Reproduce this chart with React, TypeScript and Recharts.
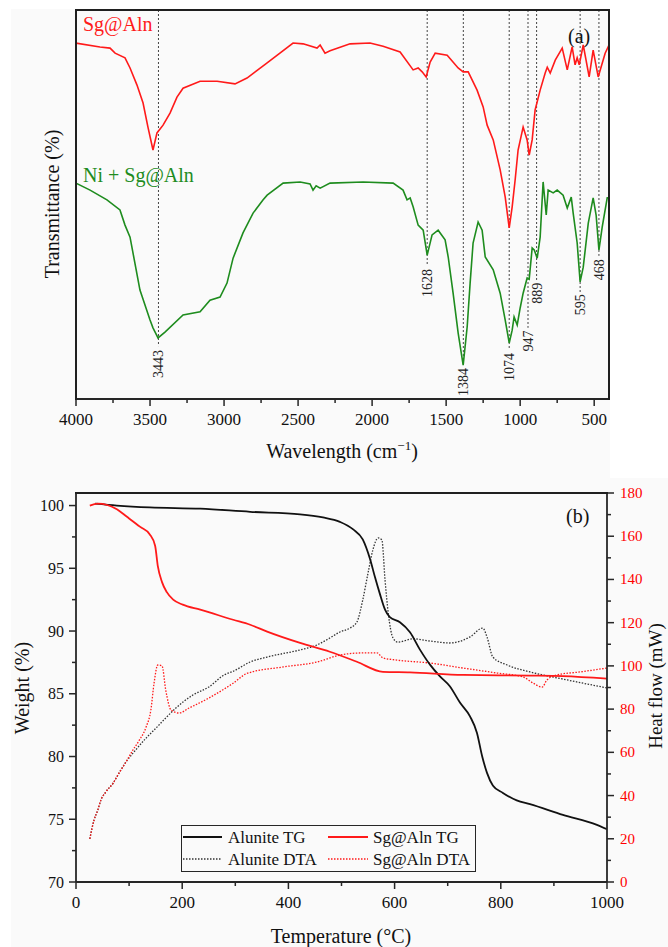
import React from 'react';
import { LineChart, Line, XAxis, YAxis, ReferenceLine, ReferenceDot } from 'recharts';

const FONT = '"Liberation Serif", "Times New Roman", Times, serif';
const AX = '#262626';
const RED = '#ff1a1a';
const GREEN = '#1e8c1e';
const BG = '#fafafa';

// ---------- (a) FTIR ----------
const sgAlnWave = [4000, 3838, 3770, 3736, 3669, 3635, 3588, 3547, 3514, 3480, 3453, 3412, 3365, 3318, 3277, 3162, 3047, 2926, 2845, 2709, 2534, 2466, 2372, 2351, 2318, 2284, 2149, 2014, 1926, 1811, 1723, 1689, 1662, 1635, 1608, 1574, 1493, 1419, 1385, 1351, 1291, 1250, 1223, 1182, 1135, 1101, 1074, 1054, 1034, 1014, 980, 953, 939, 919, 899, 865, 831, 817, 797, 763, 716, 682, 649, 629, 615, 601, 574, 534, 507, 473, 426, 400];
const sgAlnTrans = [91.5, 90.5, 90.2, 88.9, 87.7, 85.1, 80.7, 76.1, 69.9, 64.0, 68.4, 70.4, 73.5, 77.6, 79.9, 81.7, 81.7, 81.0, 82.5, 86.4, 91.5, 91.3, 90.2, 91.0, 88.9, 89.5, 91.3, 91.5, 90.7, 89.2, 84.6, 85.1, 84.1, 82.8, 86.6, 88.9, 88.4, 85.1, 84.1, 84.1, 79.4, 75.1, 70.4, 66.6, 58.9, 51.9, 44.0, 49.4, 56.3, 64.0, 69.9, 66.6, 62.7, 66.6, 74.3, 79.4, 83.8, 85.3, 83.8, 87.1, 90.2, 84.6, 90.5, 85.9, 87.7, 85.9, 91.0, 82.8, 89.7, 82.8, 88.9, 91.0];

const niWave = [4000, 3905, 3791, 3703, 3669, 3635, 3568, 3500, 3480, 3446, 3399, 3277, 3162, 3095, 3027, 2980, 2939, 2872, 2804, 2736, 2709, 2601, 2486, 2419, 2399, 2378, 2351, 2284, 2061, 1858, 1791, 1764, 1743, 1723, 1689, 1655, 1628, 1595, 1554, 1507, 1486, 1453, 1419, 1385, 1358, 1338, 1318, 1284, 1257, 1236, 1182, 1135, 1101, 1074, 1054, 1041, 1020, 1000, 980, 953, 939, 919, 905, 885, 865, 845, 824, 811, 777, 750, 710, 682, 655, 642, 615, 595, 574, 540, 507, 487, 468, 446, 412, 400];
const niTrans = [55.5, 53.7, 51.2, 48.6, 44.7, 41.6, 28.0, 20.3, 18.3, 15.7, 17.2, 21.6, 22.4, 25.4, 26.2, 29.8, 36.2, 42.7, 47.8, 51.2, 52.4, 55.5, 55.8, 55.3, 53.7, 54.8, 54.2, 55.5, 55.8, 55.5, 53.7, 51.2, 51.7, 49.4, 44.7, 43.4, 37.0, 42.2, 43.4, 40.9, 36.5, 27.2, 17.0, 8.7, 18.5, 29.8, 40.1, 45.5, 43.4, 36.5, 33.2, 27.2, 20.3, 14.4, 17.7, 21.1, 19.0, 23.4, 27.2, 31.1, 30.8, 38.8, 38.3, 36.2, 41.6, 55.8, 47.3, 53.7, 53.0, 53.7, 52.4, 49.1, 51.9, 47.8, 40.1, 30.1, 33.9, 45.2, 51.7, 47.3, 38.3, 44.2, 51.7, 51.7];

const peakWaves = [3443, 1628, 1384, 1074, 947, 889, 595, 468];
const peakLabelAt = [9.0, 29.8, 4.4, 8.2, 14.9, 27.2, 24.2, 33.2];
const peakLineTo = [13.6, 34.2, 8.7, 12.6, 18.3, 30.6, 27.5, 36.8];
const waveTicks = [4000, 3750, 3500, 3250, 3000, 2750, 2500, 2250, 2000, 1750, 1500, 1250, 1000, 750, 500];
const waveDomain = [400, 4000];
const transDomain = [0, 100];

// ---------- (b) TG / DTA ----------
const alTgTemp = [36, 77, 139, 234, 328, 422, 465, 497, 522, 540, 554, 563, 572, 582, 591, 610, 629, 648, 667, 685, 704, 723, 742, 755, 765, 774, 785, 804, 830, 855, 917, 981, 1000];
const alTgWeight = [100.15, 100.0, 99.85, 99.75, 99.5, 99.3, 99.05, 98.7, 98.1, 97.3, 95.7, 94.3, 93.0, 91.7, 91.1, 90.7, 89.9, 88.5, 87.3, 86.4, 85.6, 84.3, 83.2, 81.9, 80.0, 78.7, 77.7, 77.1, 76.5, 76.2, 75.35, 74.55, 74.2];

const sgTgTemp = [26, 41, 77, 96, 121, 139, 149, 154, 162, 171, 183, 201, 234, 296, 328, 360, 422, 478, 529, 578, 629, 729, 855, 917, 1000];
const sgTgWeight = [100.0, 100.15, 99.7, 99.1, 98.3, 97.7, 96.8, 95.2, 93.9, 93.1, 92.5, 92.1, 91.7, 90.9, 90.5, 89.95, 89.05, 88.35, 87.55, 86.75, 86.7, 86.5, 86.45, 86.4, 86.2];

const alDtaTemp = [26, 34, 41, 47, 56, 70, 81, 94, 107, 132, 151, 169, 188, 220, 250, 279, 296, 328, 360, 422, 454, 478, 497, 516, 529, 540, 550, 559, 569, 576, 582, 588, 597, 606, 635, 667, 704, 742, 766, 774, 785, 812, 855, 917, 1000];
const alDtaHeat = [20, 28.7, 33.3, 38, 41.6, 45.8, 50.4, 55.5, 59.5, 66.6, 71.3, 75.9, 80.5, 86.5, 90.2, 95.8, 97.5, 101.8, 104.1, 107.4, 109.7, 112.9, 115.7, 117.5, 120.3, 130.5, 143, 153.6, 159.2, 158.3, 139.7, 124.5, 112.9, 111, 112.5, 111.5, 110.6, 113.4, 117.5, 113.4, 104.1, 100.4, 97.2, 93.9, 89.8];

const sgDtaTemp = [26, 34, 41, 47, 56, 70, 81, 94, 107, 119, 132, 141, 147, 154, 162, 169, 179, 194, 213, 250, 279, 296, 322, 390, 454, 497, 540, 567, 578, 604, 667, 729, 793, 842, 861, 878, 887, 906, 949, 1000];
const sgDtaHeat = [20, 28.7, 33.3, 38, 41.6, 45.8, 50.4, 55.5, 61, 65.5, 71.7, 79.6, 92, 100.4, 100, 88.8, 79.6, 78.2, 80.5, 85.1, 89.3, 92, 96.5, 99.5, 101.8, 105, 106, 106, 103.7, 102.7, 101.3, 99, 96.7, 94.9, 92, 90.2, 93.5, 95.8, 97.2, 99];

const tempTicks = [0, 100, 200, 300, 400, 500, 600, 700, 800, 900, 1000];
const weightTicks = [70, 72.5, 75, 77.5, 80, 82.5, 85, 87.5, 90, 92.5, 95, 97.5, 100];
const heatTicks = [0, 10, 20, 30, 40, 50, 60, 70, 80, 90, 100, 110, 120, 130, 140, 150, 160, 170, 180];
const tempDomain = [0, 1000];
const weightDomain = [70, 101];
const heatDomain = [0, 180];

const zip = (xs: number[], ys: number[], kx: string, ky: string) =>
  xs.map((x, i) => ({ [kx]: x, [ky]: ys[i] }));

const sgAlnData = zip(sgAlnWave, sgAlnTrans, 'w', 't');
const niData = zip(niWave, niTrans, 'w', 't');
const alTg = zip(alTgTemp, alTgWeight, 'T', 'v');
const sgTg = zip(sgTgTemp, sgTgWeight, 'T', 'v');
const alDta = zip(alDtaTemp, alDtaHeat, 'T', 'v');
const sgDta = zip(sgDtaTemp, sgDtaHeat, 'T', 'v');

const isMult = (v: number, s: number) => Math.abs(v / s - Math.round(v / s)) < 1e-6;

const mkBottomTick = (step: number) => (p: any) => {
  const v = p.payload.value;
  const major = isMult(v, step);
  return (
    <g>
      <line x1={p.x} x2={p.x} y1={p.y} y2={p.y + (major ? 7 : 4)} stroke={AX} strokeWidth={1.5} />
      {major && (
        <text x={p.x} y={p.y + 26} textAnchor="middle" fontSize={17} fontFamily={FONT} fill="#111">
          {v}
        </text>
      )}
    </g>
  );
};

const LeftTick = (p: any) => {
  const v = p.payload.value;
  const major = isMult(v, 5);
  return (
    <g>
      <line x1={p.x} x2={p.x - (major ? 7 : 4)} y1={p.y} y2={p.y} stroke={AX} strokeWidth={1.5} />
      {major && (
        <text x={p.x - 12} y={p.y + 5.5} textAnchor="end" fontSize={16} fontFamily={FONT} fill="#111">
          {v}
        </text>
      )}
    </g>
  );
};

const RightTick = (p: any) => {
  const v = p.payload.value;
  const major = isMult(v, 20);
  return (
    <g>
      <line x1={p.x} x2={p.x + (major ? 7 : 4)} y1={p.y} y2={p.y} stroke={AX} strokeWidth={1.5} />
      {major && (
        <text x={p.x + 13} y={p.y + 5} textAnchor="start" fontSize={15} fontFamily={FONT} fill="#ff0000">
          {v}
        </text>
      )}
    </g>
  );
};

const axisLine = { stroke: AX, strokeWidth: 1.8 };

const txt = (s: React.CSSProperties): React.CSSProperties => ({
  position: 'absolute',
  whiteSpace: 'nowrap',
  fontFamily: FONT,
  lineHeight: '20px',
  fontSize: 20,
  color: '#111',
  ...s,
});

const rot = (cx: number, cy: number, extra: React.CSSProperties = {}): React.CSSProperties =>
  txt({ left: cx, top: cy, transform: 'translate(-50%, -50%) rotate(-90deg)', ...extra });

const bar = (left: number, top: number, width: number, height: number): React.CSSProperties => ({
  position: 'absolute',
  left,
  top,
  width,
  height,
  background: '#1f1f1f',
  zIndex: 6,
});

export default function App() {
  const t1 = transDomain[1];
  return (
    <div style={{ position: 'absolute', left: 0, top: 0, width: 668, height: 947, background: '#fff' }}>
      <div style={{ position: 'absolute', left: 11, top: 9, width: 599, height: 469, background: BG }} />
      <div style={{ position: 'absolute', left: 11, top: 478, width: 657, height: 469, background: BG }} />

      {/* (a) FTIR */}
      <div style={{ position: 'absolute', left: 0, top: 0 }}>
        <LineChart width={668} height={470} margin={{ top: 10, right: 59, bottom: 41, left: 76 }}>
          <XAxis
            type="number"
            dataKey="w"
            domain={waveDomain}
            reversed
            allowDataOverflow
            ticks={waveTicks}
            interval={0}
            tickSize={0}
            tickMargin={0}
            tickLine={false}
            height={30}
            axisLine={axisLine}
            tick={mkBottomTick(500)}
          />
          <YAxis type="number" domain={transDomain} hide allowDataOverflow />
          {peakWaves.map((w, i) => (
            <ReferenceLine
              key={'pl' + w}
              segment={[{ x: w, y: t1 }, { x: w, y: peakLineTo[i] }]}
              stroke="#444"
              strokeWidth={1}
              strokeDasharray="2 2"
              ifOverflow="visible"
            />
          ))}
          <Line data={sgAlnData} dataKey="t" type="linear" stroke={RED} strokeWidth={1.6} dot={false} isAnimationActive={false} />
          <Line data={niData} dataKey="t" type="linear" stroke={GREEN} strokeWidth={1.6} dot={false} isAnimationActive={false} />
          {peakWaves.map((w, i) => (
            <ReferenceDot
              key={'pt' + w}
              x={w}
              y={peakLabelAt[i]}
              r={0}
              ifOverflow="visible"
              shape={(p: any) => (
                <text
                  x={p.cx}
                  y={p.cy + 5}
                  transform={`rotate(-90 ${p.cx} ${p.cy})`}
                  textAnchor="middle"
                  fontSize={14}
                  fontFamily={FONT}
                  fill="#222"
                >
                  {w}
                </text>
              )}
            />
          ))}
        </LineChart>
      </div>

      {/* (b) TG / DTA */}
      <div style={{ position: 'absolute', left: 0, top: 470 }}>
        <LineChart width={668} height={477} margin={{ top: 23, right: 21, bottom: 35, left: 36 }}>
          <XAxis
            type="number"
            dataKey="T"
            domain={tempDomain}
            allowDataOverflow
            ticks={tempTicks}
            interval={0}
            tickSize={0}
            tickMargin={0}
            tickLine={false}
            height={30}
            axisLine={axisLine}
            tick={mkBottomTick(200)}
          />
          <YAxis
            yAxisId="w"
            type="number"
            domain={weightDomain}
            allowDataOverflow
            ticks={weightTicks}
            interval={0}
            tickSize={0}
            tickMargin={0}
            tickLine={false}
            width={40}
            axisLine={axisLine}
            tick={LeftTick}
          />
          <YAxis
            yAxisId="hf"
            orientation="right"
            type="number"
            domain={heatDomain}
            allowDataOverflow
            ticks={heatTicks}
            interval={0}
            tickSize={0}
            tickMargin={0}
            tickLine={false}
            width={40}
            axisLine={axisLine}
            tick={RightTick}
          />
          <Line yAxisId="hf" data={alDta} dataKey="v" type="monotone" stroke="#333" strokeWidth={1.3} strokeDasharray="1.5 1.5" dot={false} isAnimationActive={false} />
          <Line yAxisId="hf" data={sgDta} dataKey="v" type="monotone" stroke={RED} strokeWidth={1.3} strokeDasharray="1.5 1.5" dot={false} isAnimationActive={false} />
          <Line yAxisId="w" data={alTg} dataKey="v" type="monotone" stroke="#111" strokeWidth={1.8} dot={false} isAnimationActive={false} />
          <Line yAxisId="w" data={sgTg} dataKey="v" type="monotone" stroke={RED} strokeWidth={1.8} dot={false} isAnimationActive={false} />
        </LineChart>
      </div>

      {/* plot frames as solid bars */}
      <div style={bar(75, 9, 535, 2)} />
      <div style={bar(75, 9, 2, 391)} />
      <div style={bar(608, 9, 2, 391)} />
      <div style={bar(75, 492, 533, 2)} />

      {/* panel (a) texts */}
      <div style={txt({ left: 83, top: 14, color: RED })}>Sg@Aln</div>
      <div style={txt({ left: 83, top: 165, color: GREEN })}>Ni + Sg@Aln</div>
      <div style={txt({ left: 568, top: 26 })}>(a)</div>
      <div style={rot(52, 204)}>Transmittance (%)</div>
      <div style={txt({ left: 342, top: 441, transform: 'translateX(-50%)' })}>
        Wavelength (cm<sup style={{ fontSize: 13, lineHeight: 0 }}>−1</sup>)
      </div>

      {/* panel (b) texts */}
      <div style={txt({ left: 566, top: 506 })}>(b)</div>
      <div style={rot(22, 688)}>Weight (%)</div>
      <div style={rot(656, 686, { fontSize: 19, lineHeight: '18px' })}>Heat flow (mW)</div>
      <div style={txt({ left: 341, top: 926, transform: 'translateX(-50%)' })}>Temperature (°C)</div>

      {/* legend */}
      <div style={{ position: 'absolute', left: 181, top: 825, width: 295, height: 47, boxSizing: 'border-box', border: `1.5px solid ${AX}` }}>
        <svg width={292} height={44} style={{ position: 'absolute', left: 0, top: 0 }}>
          <line x1={1} x2={40} y1={11} y2={11} stroke="#111" strokeWidth={1.8} />
          <text x={46} y={17} fontSize={17} fontFamily={FONT} fill="#111">Alunite TG</text>
          <line x1={1} x2={40} y1={33} y2={33} stroke="#333" strokeWidth={1.3} strokeDasharray="1.5 1.5" />
          <text x={46} y={39} fontSize={17} fontFamily={FONT} fill="#111">Alunite DTA</text>
          <line x1={146} x2={186} y1={11} y2={11} stroke={RED} strokeWidth={1.8} />
          <text x={191} y={17} fontSize={17} fontFamily={FONT} fill="#111">Sg@Aln TG</text>
          <line x1={146} x2={186} y1={33} y2={33} stroke={RED} strokeWidth={1.3} strokeDasharray="1.5 1.5" />
          <text x={191} y={39} fontSize={17} fontFamily={FONT} fill="#111">Sg@Aln DTA</text>
        </svg>
      </div>
    </div>
  );
}
